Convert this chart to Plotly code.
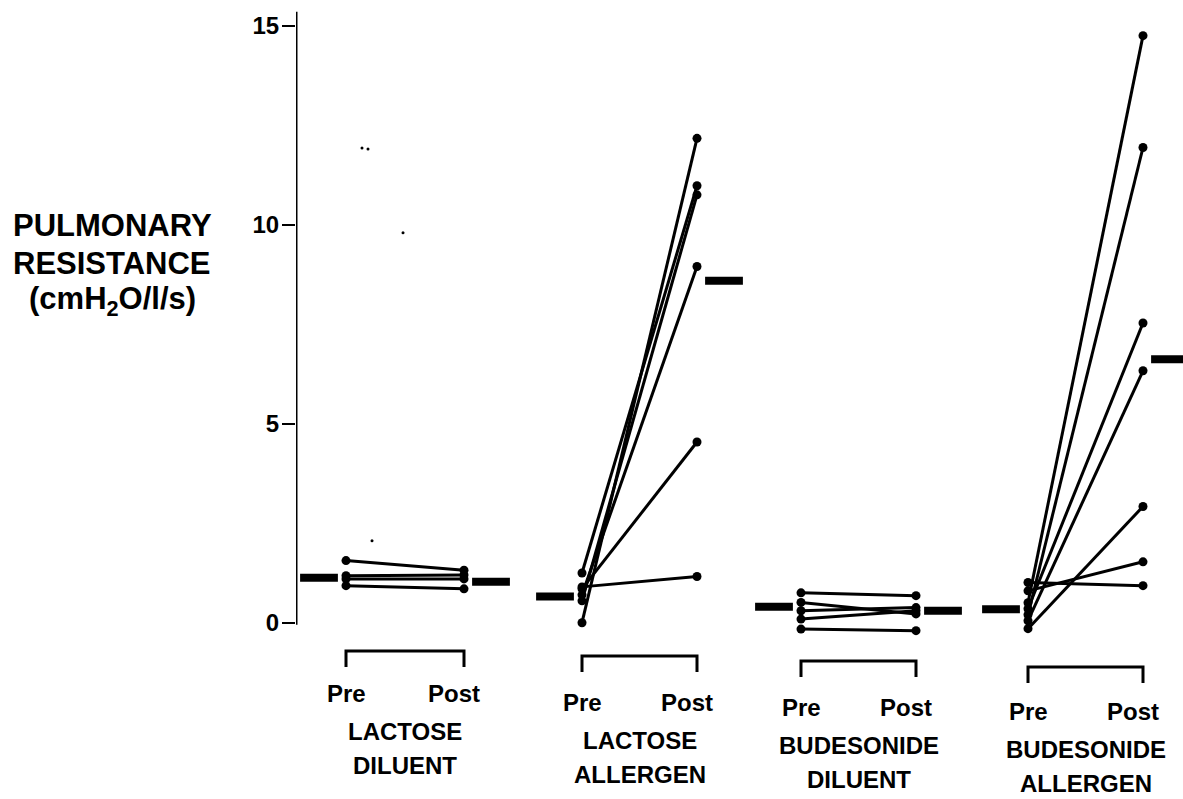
import plotly.graph_objects as go

# ---------------- data (cmH2O/l/s) ----------------
groups = [["LACTOSE", "DILUENT"], ["LACTOSE", "ALLERGEN"],
          ["BUDESONIDE", "DILUENT"], ["BUDESONIDE", "ALLERGEN"]]
time_labels = ["Pre", "Post"]
y_title = ["PULMONARY", "RESISTANCE", "(cmH<sub>2</sub>O/l/s)"]
y_ticks = [0, 5, 10, 15]

lac_dil_pre = [1.56, 1.18, 1.10, 0.93]
lac_dil_post = [1.32, 1.20, 1.10, 0.85]

lac_all_pre = [1.25, 0.00, 0.55, 0.70, 0.85, 0.90]
lac_all_post = [10.98, 12.17, 10.75, 8.95, 4.54, 1.16]

bud_dil_pre = [0.75, 0.51, 0.30, 0.09, -0.16]
bud_dil_post = [0.68, 0.22, 0.38, 0.30, -0.20]

bud_all_pre = [0.50, 0.20, 0.35, 0.05, -0.15, 0.80, 1.01]
bud_all_post = [14.75, 11.94, 7.53, 6.33, 2.92, 1.53, 0.93]

mean_pre = [1.13, 0.66, 0.40, 0.34]
mean_post = [1.03, 8.59, 0.30, 6.62]

# scanner specks visible on the original figure
speck_x = [362, 368, 403, 372]
speck_y = [11.93, 11.90, 9.80, 2.06]

pre_vals = [lac_dil_pre, lac_all_pre, bud_dil_pre, bud_all_pre]
post_vals = [lac_dil_post, lac_all_post, bud_dil_post, bud_all_post]

# ---------------- layout constants ----------------
W, H = 1183, 799
Y0PX, PXU = 622.7, 39.8          # pixel row of value 0, pixels per unit
def py(p):                        # pixel row -> data value (for text placement)
    return (Y0PX - p) / PXU

pre_x = [346, 582, 801, 1028]
post_x = [464, 697, 916, 1143]
mean_off = 27
label_row = [693, 702, 707, 711]
bracket_top = [651, 656, 661, 667]
FONT = "Liberation Sans, Arial, sans-serif"

def tfont(size):
    return dict(family=FONT, size=size, color="black", weight="bold")

fig = go.Figure()

for g in range(4):
    xs, ys = [], []
    for a, b in zip(pre_vals[g], post_vals[g]):
        xs += [pre_x[g], post_x[g], None]
        ys += [a, b, None]
    fig.add_trace(go.Scatter(
        x=xs, y=ys, mode="lines+markers",
        line=dict(color="black", width=3),
        marker=dict(color="black", size=9),
        showlegend=False, hoverinfo="skip"))

fig.add_trace(go.Scatter(
    x=[p - mean_off for p in pre_x] + [p + mean_off for p in post_x],
    y=mean_pre + mean_post, mode="markers",
    marker=dict(symbol="line-ew", size=27, line=dict(color="black", width=8)),
    showlegend=False, hoverinfo="skip"))

fig.add_trace(go.Scatter(
    x=speck_x, y=speck_y, mode="markers",
    marker=dict(color="black", size=3), showlegend=False, hoverinfo="skip"))

shapes = [dict(type="line", x0=296, x1=296, y0=-0.05, y1=15.35,
               line=dict(color="black", width=3))]
annotations = []
for g in range(4):
    t = bracket_top[g]
    shapes.append(dict(type="path",
                       path=f"M {pre_x[g]},{py(t+16)} L {pre_x[g]},{py(t)} L {post_x[g]},{py(t)} L {post_x[g]},{py(t+16)}",
                       line=dict(color="black", width=3)))
    r = label_row[g]
    annotations.append(dict(x=pre_x[g], y=py(r), text=time_labels[0], showarrow=False,
                            font=tfont(24), xanchor="center", yanchor="middle"))
    annotations.append(dict(x=post_x[g] - 10, y=py(r), text=time_labels[1], showarrow=False,
                            font=tfont(24), xanchor="center", yanchor="middle"))
    for k, line in enumerate(groups[g]):
        annotations.append(dict(x=(pre_x[g] + post_x[g]) / 2, y=py(r + 38 + 34 * k), text=line,
                                showarrow=False, font=tfont(24), xanchor="center", yanchor="middle"))

for k, line in enumerate(y_title):
    annotations.append(dict(xref="paper", yref="y", x=(112 - 296) / (W - 296), y=py(225 + 38 * k),
                            text=line, showarrow=False, font=tfont(31),
                            xanchor="center", yanchor="middle"))

fig.update_layout(
    width=W, height=H, margin=dict(l=296, r=0, t=0, b=0),
    paper_bgcolor="white", plot_bgcolor="white",
    xaxis=dict(range=[296, W], visible=False),
    yaxis=dict(range=[py(H), py(0)], tickvals=y_ticks, ticktext=[str(v) for v in y_ticks],
               ticks="outside", ticklen=13, tickwidth=2, tickcolor="black",
               ticklabelstandoff=-2,
               showgrid=False, zeroline=False, showline=False,
               tickfont=tfont(24)),
    shapes=shapes, annotations=annotations,
)

fig.write_html("out.html")
